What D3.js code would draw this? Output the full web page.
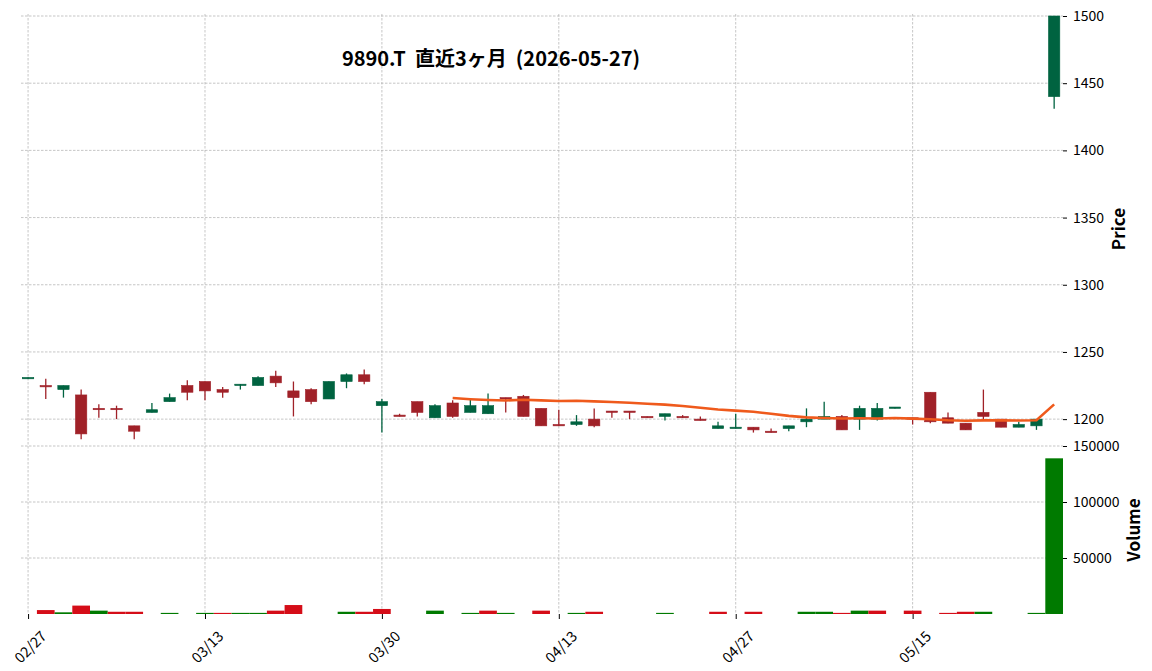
<!DOCTYPE html>
<html>
<head>
<meta charset="utf-8">
<script src="https://cdn.jsdelivr.net/npm/d3@7"></script>
<style>
  body { margin: 0; background: #fff; }
  text { font-family: "Noto Sans CJK JP", "DejaVu Sans", sans-serif; }
</style>
</head>
<body>
<svg id="chart"></svg>
<script>
// daily data, 9890.T, last 3 months
const dates = ['02/27',
  '03/02', '03/03', '03/04', '03/05', '03/06', '03/09', '03/10', '03/11', '03/12', '03/13',
  '03/16', '03/17', '03/18', '03/19', '03/23', '03/24', '03/25', '03/26', '03/27',
  '03/30', '03/31', '04/01', '04/02', '04/03', '04/06', '04/07', '04/08', '04/09', '04/10',
  '04/13', '04/14', '04/15', '04/16', '04/17', '04/20', '04/21', '04/22', '04/23', '04/24',
  '04/27', '04/28', '04/30', '05/01', '05/07', '05/08', '05/11', '05/12', '05/13', '05/14',
  '05/15', '05/18', '05/19', '05/20', '05/21', '05/22', '05/25', '05/26', '05/27'];
const opens = [1230,
  1225, 1222, 1218, 1208, 1208, 1195, 1205, 1213, 1225, 1228,
  1222, 1225, 1225, 1232, 1221, 1222, 1215, 1228, 1233,
  1210, 1203, 1213, 1201, 1212, 1205, 1204, 1216, 1217, 1208,
  1196, 1196, 1200, 1206, 1206, 1202, 1202, 1202, 1200, 1193,
  1193, 1194, 1191, 1193, 1198, 1200, 1202, 1200, 1200, 1208,
  1201, 1220, 1201, 1197, 1205, 1200, 1194, 1195, 1440];
const highs = [1231,
  1230, 1225, 1222, 1211, 1210, 1195, 1212, 1219, 1229, 1228,
  1224, 1226, 1232, 1236, 1228, 1223, 1228, 1234, 1237,
  1215, 1204, 1213, 1211, 1214, 1215, 1219, 1216, 1218, 1208,
  1207, 1203, 1208, 1206, 1206, 1202, 1204, 1203, 1202, 1198,
  1204, 1194, 1193, 1195, 1208, 1213, 1203, 1210, 1212, 1209,
  1201, 1220, 1205, 1197, 1222, 1200, 1198, 1200, 1500];
const lows = [1230,
  1215, 1216, 1185, 1201, 1200, 1185, 1205, 1213, 1214, 1214,
  1216, 1222, 1225, 1224, 1202, 1211, 1215, 1223, 1226,
  1190, 1202, 1202, 1201, 1201, 1205, 1204, 1205, 1202, 1195,
  1195, 1195, 1194, 1201, 1200, 1201, 1199, 1201, 1199, 1193,
  1193, 1190, 1190, 1191, 1194, 1200, 1192, 1192, 1199, 1208,
  1196, 1197, 1197, 1192, 1200, 1194, 1194, 1192, 1431];
const closes = [1231,
  1224, 1225, 1189, 1207, 1207, 1191, 1207, 1216, 1220, 1221,
  1220, 1226, 1231, 1227, 1216, 1213, 1228, 1233, 1228,
  1213, 1202, 1205, 1210, 1202, 1210, 1210, 1215, 1202, 1195,
  1195, 1198, 1195, 1205, 1205, 1201, 1204, 1201, 1199, 1195,
  1194, 1192, 1190, 1195, 1200, 1202, 1192, 1208, 1208, 1209,
  1200, 1198, 1197, 1192, 1202, 1194, 1196, 1200, 1500];
const volumes = [0,
  3500, 1500, 7500, 3000, 2000, 2000, 0, 1000, 0, 1000,
  1000, 1000, 1000, 3000, 8000, 0, 0, 2000, 2000,
  4500, 0, 0, 3000, 0, 1000, 3000, 1000, 0, 3000,
  0, 1000, 2000, 0, 0, 0, 1000, 0, 0, 2000,
  0, 2000, 0, 0, 2000, 2000, 1000, 3000, 3000, 0,
  3000, 0, 1000, 2000, 2000, 0, 0, 1000, 139000];
const priceTicks = [1200, 1250, 1300, 1350, 1400, 1450, 1500];
const volumeTicks = [50000, 100000, 150000];
const dateTicks = [0, 10, 20, 30, 40, 50];
const mavPeriod = 25;

const title = '9890.T  直近3ヶ月  (2026-05-27)';

const upColor = '#006340', downColor = '#a02128';
const volUp = '#007a00', volDown = '#d50d18';
const mavColor = '#ef5a1c';
const gridColor = '#adadad';

const W = 1152, H = 671;
const left = 21, right = 1063;
const svg = d3.select('#chart').attr('width', W).attr('height', H);

// scales: index positions like mplfinance (no gaps for non trading days)
const x = d3.scaleLinear().domain([-0.4, 58.5]).range([left, right]);
const yPrice = d3.scaleLinear().domain([1180, 1500]).range([446, 16]);
const yVol = d3.scaleLinear().domain([0, 150000]).range([614, 446]);
const step = x(1) - x(0);

// grid
const grid = svg.append('g')
    .attr('stroke', gridColor)
    .attr('stroke-width', 0.7)
    .attr('stroke-dasharray', '2.5,1.5');
grid.selectAll('.vg').data(dateTicks).enter().append('line')
    .attr('x1', d => x(d)).attr('x2', d => x(d))
    .attr('y1', 14).attr('y2', 614);
grid.selectAll('.hp').data(priceTicks).enter().append('line')
    .attr('x1', left).attr('x2', right)
    .attr('y1', d => yPrice(d)).attr('y2', d => yPrice(d));
grid.selectAll('.hv').data(volumeTicks).enter().append('line')
    .attr('x1', left).attr('x2', right)
    .attr('y1', d => yVol(d)).attr('y2', d => yVol(d));

// price and volume axes on the right
const priceAxis = svg.append('g')
    .attr('transform', `translate(${right}, 0)`)
    .call(d3.axisRight(yPrice).tickValues(priceTicks).tickFormat(d3.format('d')).tickSize(4).tickPadding(6));
const volAxis = svg.append('g')
    .attr('transform', `translate(${right}, 0)`)
    .call(d3.axisRight(yVol).tickValues(volumeTicks).tickFormat(d3.format('d')).tickSize(4).tickPadding(6));
[priceAxis, volAxis].forEach(a => {
    a.select('.domain').remove();
    a.selectAll('text').attr('font-size', 14).attr('fill', '#000')
        .style('font-family', '"Noto Sans CJK JP", sans-serif');
    a.selectAll('line').attr('stroke', '#000');
});

// date axis
const xAxis = svg.append('g')
    .attr('transform', 'translate(0, 614)')
    .call(d3.axisBottom(x).tickValues(dateTicks).tickFormat(i => dates[i]).tickSize(5));
xAxis.select('.domain').remove();
xAxis.selectAll('line').attr('stroke', '#000');
xAxis.selectAll('text')
    .attr('font-size', 14.5).attr('fill', '#000')
    .style('font-family', '"Noto Sans CJK JP", sans-serif')
    .attr('text-anchor', 'middle')
    .attr('dy', null)
    .attr('y', 0)
    .attr('dominant-baseline', 'central')
    .attr('transform', 'translate(1, 32) rotate(-45)');

// volume bars, colour by close vs previous close
svg.append('g').selectAll('rect')
    .data(volumes.map((v, i) => ({ i, v })).filter(d => d.v > 0))
    .enter().append('rect')
    .attr('x', d => x(d.i) - step / 2)
    .attr('width', step)
    .attr('y', d => yVol(d.v))
    .attr('height', d => yVol(0) - yVol(d.v))
    .attr('fill', d => (d.i > 0 && closes[d.i] > closes[d.i - 1]) ? volUp : volDown);

// candles
const candles = svg.append('g').selectAll('g')
    .data(dates.map((d, i) => i))
    .enter().append('g');
const col = i => closes[i] >= opens[i] ? upColor : downColor;
candles.append('line')
    .attr('x1', i => x(i)).attr('x2', i => x(i))
    .attr('y1', i => yPrice(highs[i])).attr('y2', i => yPrice(lows[i]))
    .attr('stroke', col).attr('stroke-width', 1.3);
const bw = step * 0.64;
candles.append('rect')
    .attr('x', i => x(i) - bw / 2)
    .attr('width', bw)
    .attr('y', i => yPrice(Math.max(opens[i], closes[i])))
    .attr('height', i => Math.max(1.3, Math.abs(yPrice(opens[i]) - yPrice(closes[i]))))
    .attr('fill', col)
    .attr('stroke', col).attr('stroke-width', 0.6);

// moving average of the closes (mav=25, as in the original chart)
const mav = closes.map((c, i) => i < mavPeriod - 1 ? null : d3.mean(closes.slice(i - mavPeriod + 1, i + 1)));
svg.append('path')
    .datum(mav.map((v, i) => ({ i, v })).filter(d => d.v !== null))
    .attr('fill', 'none')
    .attr('stroke', mavColor)
    .attr('stroke-width', 2.6)
    .attr('d', d3.line().x(d => x(d.i)).y(d => yPrice(d.v)));

// labels
svg.append('text')
    .attr('x', 491).attr('y', 57)
    .attr('text-anchor', 'middle').attr('dominant-baseline', 'central')
    .attr('font-size', 20).attr('font-weight', 'bold')
    .style('white-space', 'pre')
    .text(title);
svg.append('text')
    .attr('transform', 'translate(1117, 229) rotate(-90)')
    .attr('text-anchor', 'middle').attr('dominant-baseline', 'central')
    .attr('font-size', 17).attr('font-weight', 'bold')
    .text('Price');
svg.append('text')
    .attr('transform', 'translate(1132, 530) rotate(-90)')
    .attr('text-anchor', 'middle').attr('dominant-baseline', 'central')
    .attr('font-size', 17).attr('font-weight', 'bold')
    .text('Volume');
</script>
</body>
</html>
